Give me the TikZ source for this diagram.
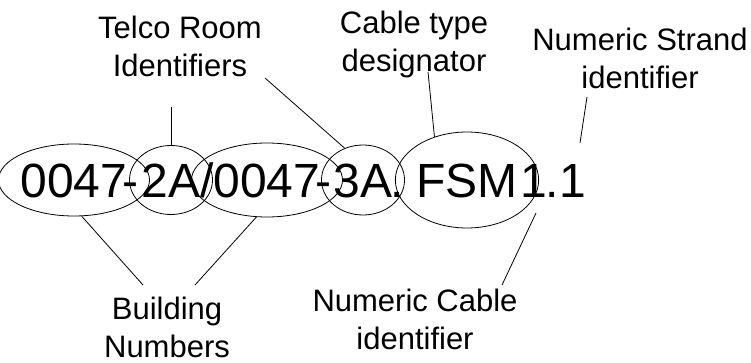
\documentclass[tikz,border=0pt]{standalone}
\usepackage{fontspec}
\setmainfont{Liberation Sans}
\usetikzlibrary{shapes.geometric}
\tikzset{
	part/.style={draw, ellipse, inner sep=0pt, text height=34pt, text depth=0pt,
		font=\fontsize{48}{58}\selectfont},
	glyph/.style={inner sep=0pt, anchor=base, font=\fontsize{48}{58}\selectfont},
	caption/.style={align=center, inner sep=0pt, font=\fontsize{31}{38}\selectfont},
	leader/.style={line width=0.8pt}
}

\begin{document}
\begin{tikzpicture}[x=1pt, y=-1pt, line width=0.8pt]
	\useasboundingbox (0,0) rectangle (751,363);

	% the code, part by part
	\node[part, minimum width=120pt, minimum height=72pt] (bld1) at (74,180)  {0047};
	\node[glyph]                                          (dash1) at (130,197) {-};
	\node[part, minimum width=68pt,  minimum height=69pt] (room1) at (171,180) {2A};
	\node[glyph]                                          (slash) at (207,197) {/};
	\node[part, minimum width=124pt, minimum height=74pt] (bld2) at (267,180) {0047};
	\node[glyph]                                          (dash2) at (323,197) {-};
	\node[part, minimum width=68pt,  minimum height=70pt] (room2) at (363,180) {3A};
	\node[glyph]                                          (dot1)  at (397,197) {.};
	\node[part, minimum width=122pt, minimum height=96pt] (type)  at (467,180) {FSM};
	\node[glyph]                                          (cable) at (534,197) {1};
	\node[glyph]                                          (dot2)  at (552,197) {.};
	\node[glyph]                                          (strand) at (573,197) {1};

	% captions
	\node[caption] (telco)    at (180,46)  {Telco Room\\Identifiers};
	\node[caption] (typelbl)  at (414,44)  {Cable type\\designator};
	\node[caption] (strandlbl) at (640,58) {Numeric Strand\\identifier};
	\node[caption] (building) at (167,327) {Building\\Numbers};
	\node[caption] (cablelbl) at (415,319) {Numeric Cable\\identifier};

	% free ends of the leaders
	\coordinate (telco-a) at (171,107);
	\coordinate (telco-b) at (265,78);
	\coordinate (type-a)  at (428,72);
	\coordinate (strand-a) at (587,97);
	\coordinate (strand-b) at (580,143);
	\coordinate (bld-a)   at (143,285);
	\coordinate (bld-b)   at (195,285);
	\coordinate (cable-a) at (536,213);
	\coordinate (cable-b) at (502,285);

	\draw[leader] (telco-a) -- (room1.north);
	\draw[leader] (telco-b) -- (room2.120);
	\draw[leader] (type-a) -- (type.127);
	\draw[leader] (strand-a) -- (strand-b);
	\draw[leader] (bld1.-78) -- (bld-a);
	\draw[leader] (bld2.-106) -- (bld-b);
	\draw[leader] (cable-a) -- (cable-b);
\end{tikzpicture}
\end{document}
